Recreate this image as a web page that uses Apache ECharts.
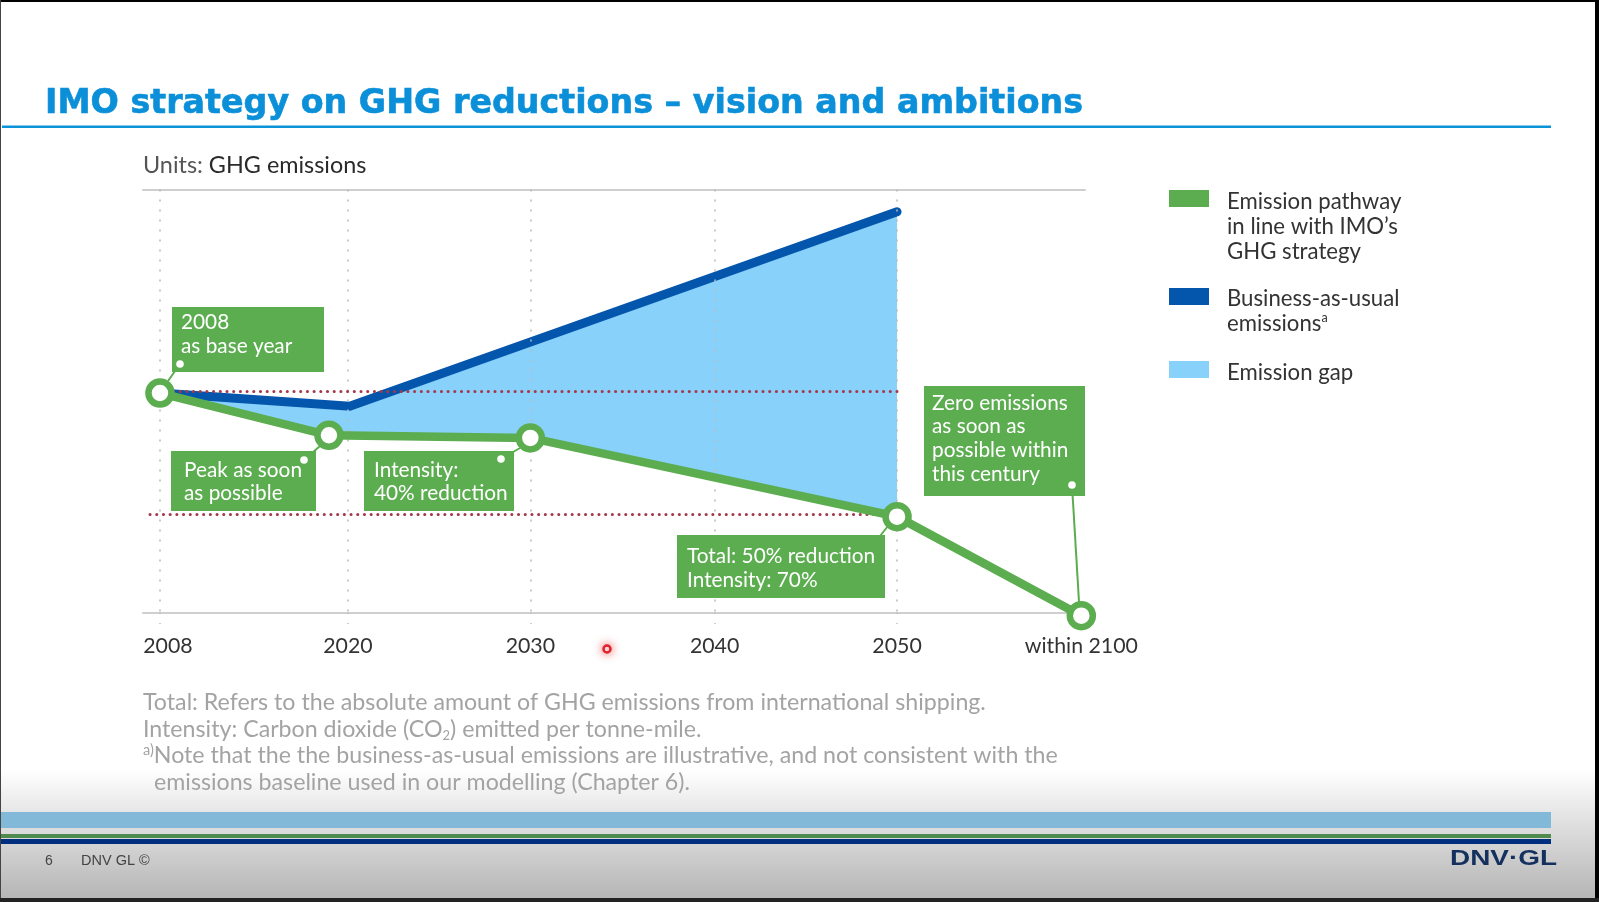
<!DOCTYPE html>
<html>
<head>
<meta charset="utf-8">
<style>html,body{margin:0;padding:0;background:#fff;overflow:hidden}#c{width:1599px;height:902px}</style>
<script src="https://cdn.jsdelivr.net/npm/echarts@6/dist/echarts.min.js"></script>
</head>
<body>
<div id="c"></div>
<script>
// Category slots on the (non-linear, illustrative) time axis
const tickLabels = ['2008','2020','2030','2040','2050','within 2100'];
const tickSlots = [0, 1.02, 2.01, 3.01, 4, 5];
// Emission pathway in line with IMO's strategy (2008 = 100, illustrative)
const pathwaySlots = [0, 0.917, 2.01, 4, 5];
const pathwayValues = [100, 80.8, 79.6, 43.8, -1.2];
// Business-as-usual emissions
const bauSlots = [0, 1.03, 4];
const bauValues = [100, 94, 182.4];
// Reference levels
const baseLevel = 101;
const fiftyLevel = 44.8;

const FONT = 'Lato';
const GREEN = '#5BAD4F', NAVY = '#0455AC', SKY = '#88D1FA', RED = '#A23A4C';

const el = document.getElementById('c');
const chart = echarts.init(el, null, {renderer: 'canvas', width: 1599, height: 902});

function pairs(xs, ys) { return xs.map((x, i) => [x, ys[i]]); }

function rect(x, y, w, h, fill, z, r) {
  return {type: 'rect', silent: true, z: z === undefined ? 100 : z,
    shape: {x, y, width: w, height: h, r: r || 0}, style: {fill}};
}
function txt(x, y, s, fill, size, extra) {
  return {type: 'text', silent: true, z: 101, x, y,
    style: Object.assign({text: s, fill, fontFamily: FONT, fontSize: size,
      verticalAlign: 'middle', align: 'left'}, extra || {})};
}
function dot(x, y) {
  return {type: 'circle', silent: true, z: 101, shape: {cx: x, cy: y, r: 3.8}, style: {fill: '#fff'}};
}
function leader(x1, y1, x2, y2) {
  return {type: 'line', silent: true, z: 100, shape: {x1, y1, x2, y2},
    style: {stroke: GREEN, lineWidth: 2}};
}

const calloutSize = 20.8;
const legendSize = 22.2;
const noteSize = 23.2;
const NOTE = '#A3A3A3';
const INK = '#333333';

const logo = txt(1450, 859, 'DNV·GL', '#14305E', 22, {fontFamily: 'Liberation Sans', fontWeight: 'bold'});
logo.scaleX = 1.27;

const graphics = [
  // frame of the screenshot
  rect(0, 0, 1599, 2, '#000', 200),
  rect(0, 0, 1, 902, '#444', 200),
  rect(1595, 0, 4, 902, '#000', 200),
  rect(0, 898, 1599, 4, '#222', 200),
  // title rule
  rect(2, 125.5, 1549, 2.5, '#0A93D6', 100),
  // footer
  {type: 'rect', silent: true, z: -10, shape: {x: 0, y: 770, width: 1599, height: 130},
    style: {fill: {type: 'linear', x: 0, y: 0, x2: 0, y2: 1, colorStops: [
      {offset: 0, color: '#ffffff'}, {offset: 0.35, color: '#e4e4e4'}, {offset: 1, color: '#b4b4b4'}]}}},
  rect(0, 812, 1551, 16, '#82B9D8', 100),
  rect(0, 834, 1551, 4, '#4F8A4F', 100),
  rect(0, 839, 1551, 5, '#002F7F', 100),
  txt(45, 861, '6', '#444', 14, {fontFamily: 'Liberation Sans'}),
  txt(81, 861, 'DNV GL ©', '#444', 14.5, {fontFamily: 'Liberation Sans'}),
  logo,

  // Units
  {type: 'text', silent: true, z: 101, x: 143, y: 165.5, style: {
    text: '{a|Units: }{b|GHG emissions}', verticalAlign: 'middle',
    rich: {a: {fontFamily: FONT, fontSize: 23.4, fill: '#555'}, b: {fontFamily: FONT, fontSize: 23.4, fill: '#2a2a2a'}}}},

  // legend
  rect(1169, 190, 40, 17, GREEN, 100),
  rect(1169, 288, 40, 17, NAVY, 100),
  rect(1169, 361, 40, 17, SKY, 100),
  txt(1227, 201.5, 'Emission pathway', INK, legendSize),
  txt(1227, 226.5, 'in line with IMO’s', INK, legendSize),
  txt(1227, 252, 'GHG strategy', INK, legendSize),
  txt(1227, 298.5, 'Business-as-usual', INK, legendSize),
  {type: 'text', silent: true, z: 101, x: 1227, y: 323.5, style: {
    text: '{a|emissions}{b|a}', verticalAlign: 'middle',
    rich: {a: {fontFamily: FONT, fontSize: legendSize, fill: INK, lineHeight: 24},
           b: {fontFamily: FONT, fontSize: 12.5, fill: INK, verticalAlign: 'top', lineHeight: 24}}}},
  txt(1227, 372.5, 'Emission gap', INK, legendSize),

  // callouts
  rect(172, 307, 152, 65, GREEN),
  txt(181, 322, '2008', '#fff', calloutSize),
  txt(181, 346, 'as base year', '#fff', calloutSize),
  dot(180, 364), leader(180, 364, 168, 381),

  rect(171, 451, 145, 60, GREEN),
  txt(184, 470, 'Peak as soon', '#fff', calloutSize),
  txt(184, 493, 'as possible', '#fff', calloutSize),
  dot(304, 460), leader(304, 460, 320, 446),

  rect(364, 451, 150, 60, GREEN),
  txt(374, 470, 'Intensity:', '#fff', calloutSize),
  txt(374, 493, '40% reduction', '#fff', calloutSize),
  dot(501, 459), leader(501, 459, 520, 448),

  rect(677, 535, 208, 63, GREEN),
  txt(687, 556, 'Total: 50% reduction', '#fff', calloutSize),
  txt(687, 580, 'Intensity: 70%', '#fff', calloutSize),
  leader(880, 536, 888, 526),

  rect(924, 386, 161, 110, GREEN),
  txt(932, 403, 'Zero emissions', '#fff', calloutSize),
  txt(932, 426, 'as soon as', '#fff', calloutSize),
  txt(932, 450, 'possible within', '#fff', calloutSize),
  txt(932, 474, 'this century', '#fff', calloutSize),
  dot(1072, 485), leader(1072, 485, 1079, 602),

  // notes
  txt(143, 702.5, 'Total: Refers to the absolute amount of GHG emissions from international shipping.', NOTE, noteSize),
  {type: 'text', silent: true, z: 101, x: 143, y: 729.5, style: {
    text: '{a|Intensity: Carbon dioxide (CO}{b|2}{a|) emitted per tonne-mile.}', verticalAlign: 'middle',
    rich: {a: {fontFamily: FONT, fontSize: noteSize, fill: NOTE, lineHeight: 26},
           b: {fontFamily: FONT, fontSize: 13, fill: NOTE, verticalAlign: 'bottom', lineHeight: 26}}}},
  {type: 'text', silent: true, z: 101, x: 143, y: 756, style: {
    text: '{b|a)}{a|Note that the the business-as-usual emissions are illustrative, and not consistent with the}', verticalAlign: 'middle',
    rich: {a: {fontFamily: FONT, fontSize: noteSize, fill: NOTE, lineHeight: 26},
           b: {fontFamily: FONT, fontSize: 14.5, fill: NOTE, verticalAlign: 'top', lineHeight: 26}}}},
  txt(154, 783, 'emissions baseline used in our modelling (Chapter 6).', NOTE, noteSize),

  // presenter's pointer
  {type: 'circle', silent: true, z: 101, shape: {cx: 607, cy: 649, r: 3.5},
    style: {fill: '#fff', stroke: '#E0202A', lineWidth: 2.5, shadowColor: 'rgba(240,40,40,0.7)', shadowBlur: 10}}
];

const option = {
  animation: false,
  backgroundColor: '#ffffff',
  title: {
    text: 'IMO strategy on GHG reductions – vision and ambitions',
    left: 45, top: 88, padding: 0,
    textStyle: {fontFamily: 'DejaVu Sans', fontWeight: 'bold', fontSize: 33.3, color: '#0A8FD8',
      textBorderColor: '#0A8FD8', textBorderWidth: 0.6}
  },
  grid: {left: 143, width: 942, top: 190, height: 423},
  xAxis: [{
    type: 'value', min: -0.092, max: 5.02, position: 'bottom',
    splitLine: {show: false},
    axisLine: {show: true, onZero: false, lineStyle: {color: '#CFCFCF', width: 2}},
    axisTick: {show: true, customValues: tickSlots.slice(0, 5), length: 12,
      lineStyle: {color: '#BBBBBB', type: [1, 9], width: 1.5}},
    axisLabel: {
      customValues: tickSlots, margin: 23,
      formatter: v => {
        const i = tickSlots.indexOf(v);
        return i === 0 ? '{shift|' + tickLabels[i] + '}' : tickLabels[i];
      },
      fontFamily: FONT, fontSize: 21.3, color: INK,
      rich: {shift: {fontFamily: FONT, fontSize: 21.3, color: INK, padding: [0, 0, 0, 16]}}
    }
  }, {
    type: 'value', min: -0.092, max: 5.02, position: 'top',
    splitLine: {show: false},
    axisLine: {show: true, onZero: false, lineStyle: {color: '#CFCFCF', width: 2}},
    axisTick: {show: false}, axisLabel: {show: false}
  }],
  yAxis: {type: 'value', min: 0, max: 192.3, show: false, splitLine: {show: false}},
  series: [
    {
      type: 'line', name: 'grid', z: 1, data: [], silent: true, clip: false,
      markLine: {
        silent: true, symbol: 'none', label: {show: false},
        lineStyle: {color: '#BBBBBB', type: [1, 9], width: 1.5, cap: 'round'},
        data: tickSlots.slice(0, 5).map(v => [{coord: [v, 192.3]}, {coord: [v, 0]}])
      }
    },
    {
      type: 'custom', name: 'Emission gap', z: 2, silent: true, clip: false,
      data: [[0, 100]],
      renderItem: (params, api) => {
        const upper = pairs(bauSlots, bauValues);
        const lower = pairs(pathwaySlots.slice(0, 4), pathwayValues.slice(0, 4)).reverse();
        return {type: 'polygon',
          shape: {points: upper.concat(lower).map(p => api.coord(p))},
          style: {fill: SKY}};
      }
    },
    {
      type: 'line', name: 'levels', z: 3, data: [], silent: true, clip: false,
      markLine: {
        silent: true, symbol: 'none', label: {show: false},
        lineStyle: {color: RED, type: [0.1, 6.6], width: 3, cap: 'round'},
        data: [
          [{coord: [0, baseLevel]}, {coord: [4.02, baseLevel]}],
          [{coord: [-0.054, fiftyLevel]}, {coord: [3.92, fiftyLevel]}]
        ]
      }
    },
    {
      type: 'line', name: 'Business-as-usual emissions', z: 4, clip: false, silent: true,
      data: pairs(bauSlots, bauValues), showSymbol: false, symbol: 'none',
      lineStyle: {color: NAVY, width: 9, cap: 'round', join: 'miter'}
    },
    {
      type: 'line', name: 'Emission pathway in line with IMO’s GHG strategy', z: 5, clip: false, silent: true,
      data: pairs(pathwaySlots, pathwayValues), showSymbol: true, showAllSymbol: true,
      symbol: 'circle', symbolSize: 23,
      itemStyle: {color: '#fff', borderColor: GREEN, borderWidth: 6.5},
      lineStyle: {color: GREEN, width: 8.5, join: 'miter'}
    }
  ],
  graphic: {elements: graphics}
};
chart.setOption(option);
</script>
</body>
</html>
